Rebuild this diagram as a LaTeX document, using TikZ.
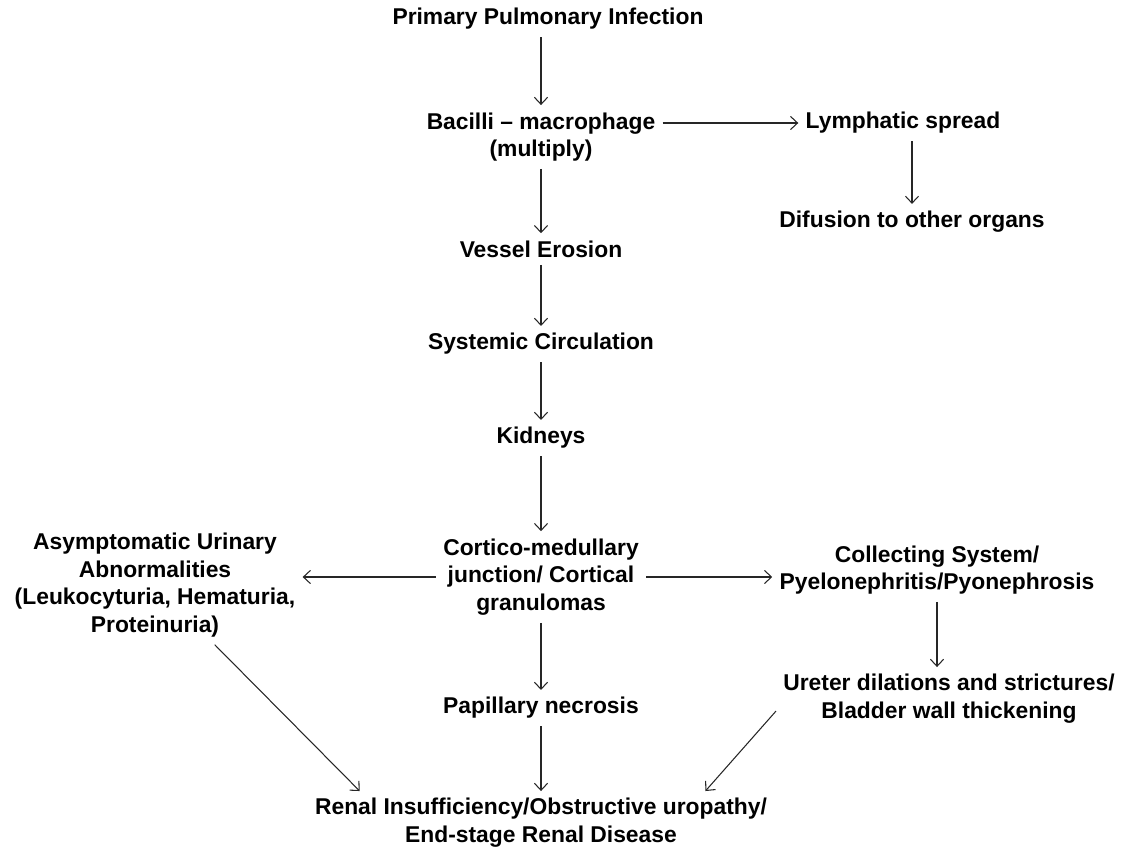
\documentclass[tikz,border=0pt]{standalone}
\usepackage{fontspec}
\setmainfont{Liberation Sans}
\usepackage{tikz}
\usetikzlibrary{arrows.meta}

\begin{document}
\begin{tikzpicture}[x=0.02cm, y=-0.02cm,
		node_style/.style={inner sep=4pt,align=center,text=black,font=\bfseries\fontsize{13}{15.8}\selectfont},
		edge_style/.style={draw=black!85,line width=0.6pt,-{Straight Barb[length=4pt,width=7.5pt]}}]
		\useasboundingbox (0,0) rectangle (1123,847);
		\node[node_style] (pri) at (548,19)  {Primary Pulmonary Infection};
		\node[node_style] (bac) at (541,137) {Bacilli – macrophage\\(multiply)};
		\node[node_style] (lym) at (903,123) {Lymphatic spread};
		\node[node_style] (dif) at (912,222) {Difusion to other organs};
		\node[node_style] (ves) at (541,249) {Vessel Erosion};
		\node[node_style] (sys) at (541,344) {Systemic Circulation};
		\node[node_style] (kid) at (541,438) {Kidneys};
		\node[node_style] (cor) at (541,577) {Cortico-medullary\\junction/ Cortical\\granulomas};
		\node[node_style] (asy) at (155,585) {Asymptomatic Urinary\\Abnormalities\\(Leukocyturia, Hematuria,\\Proteinuria)};
		\node[node_style] (col) at (937,570) {Collecting System/\\Pyelonephritis/Pyonephrosis};
		\node[node_style] (ure) at (949,699) {Ureter dilations and strictures/\\Bladder wall thickening};
		\node[node_style] (pap) at (541,708) {Papillary necrosis};
		\node[node_style] (ren) at (541,823) {Renal Insufficiency/Obstructive uropathy/\\End-stage Renal Disease};
		\draw[edge_style]  (pri.south -| bac) -- (bac);
		\draw[edge_style]  (bac.east |- lym) -- (lym);
		\draw[edge_style]  (lym.south -| dif) -- (dif);
		\draw[edge_style]  (bac) -- (ves);
		\draw[edge_style]  (ves) -- (sys);
		\draw[edge_style]  (sys) -- (kid);
		\draw[edge_style]  (kid) -- (cor);
		\draw[edge_style]  (cor.west) -- (asy.east |- cor.west);
		\draw[edge_style]  (cor.east) -- (col.west |- cor.east);
		\draw[edge_style]  (col.south) -- (col.south |- ure.north);
		\draw[edge_style]  (cor) -- (pap);
		\draw[edge_style]  (pap) -- (ren);
		\draw[edge_style]  (asy.-45) -- (ren.170);
		\draw[edge_style]  (ure.184) -- (ren.11);
\end{tikzpicture}
\end{document}
